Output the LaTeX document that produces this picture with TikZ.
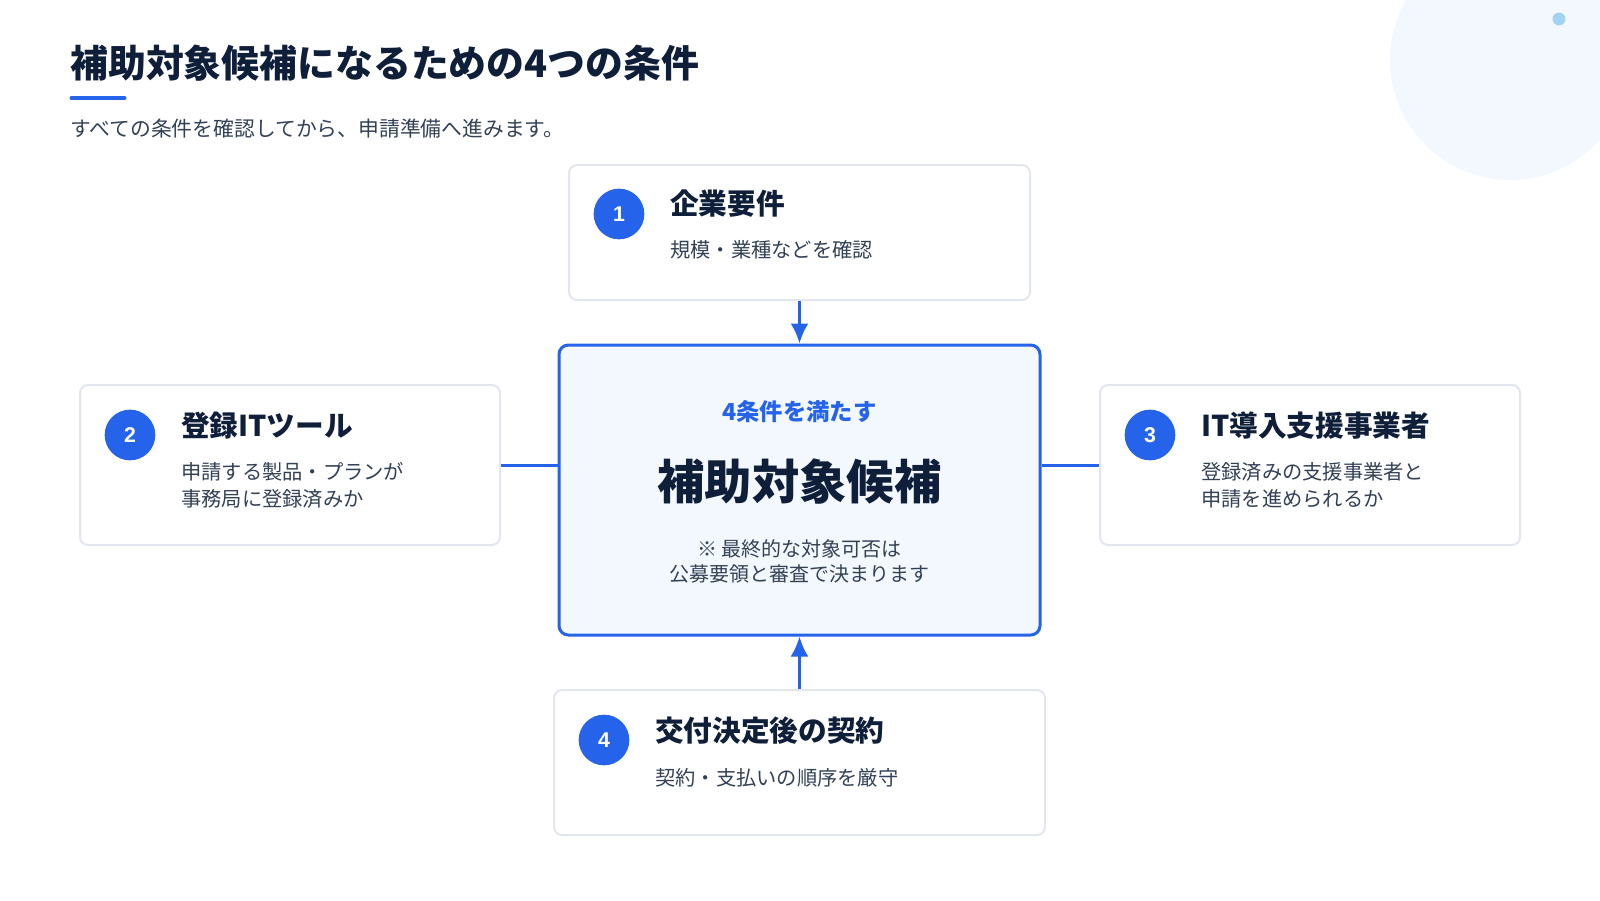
\documentclass[tikz,border=0pt]{standalone}
\usepackage{fontspec}
\setmainfont{Noto Sans CJK JP}
\newfontfamily\numfont{Liberation Sans}
\usetikzlibrary{arrows.meta}
\tikzset{>={Latex[length=15pt,width=13.5pt]}}
\definecolor{b1}{HTML}{2563EB}
\definecolor{navy}{HTML}{0F1F3A}
\definecolor{gr}{HTML}{334155}
\definecolor{edge}{HTML}{E2E6EE}
\definecolor{pale}{HTML}{F3F8FF}
\definecolor{dot}{HTML}{A3D3F3}
\tikzstyle{card}=[draw=edge,line width=1.5pt,fill=white,rounded corners=6pt,inner sep=0pt]
\tikzstyle{goal}=[draw=b1,line width=2.25pt,fill=pale,rounded corners=7pt,inner sep=0pt,
                  minimum width=360.75pt,minimum height=217.5pt]
\tikzstyle{badge}=[circle,fill=b1,text=white,minimum size=38pt,inner sep=0pt,
                   font=\numfont\bfseries\fontsize{16}{16}\selectfont]
\tikzstyle{head}=[anchor=west,inner sep=0pt,text=navy,font=\bfseries\fontsize{21.5}{26}\selectfont]
\tikzstyle{note}=[anchor=west,inner sep=0pt,text=gr,align=left,font=\fontsize{15.2}{20.25}\selectfont]
\tikzstyle{link}=[b1,line width=2.25pt]
\newcommand{\mybadge}[3]
{  % #1 = name , #2 = position , #3 = number
  \node[badge] (#1) at (#2) {#3};
}

\begin{document}
\begin{tikzpicture}[x=0.75pt,y=-0.75pt]
  \useasboundingbox (0,0) rectangle (1600,900);
  \begin{scope}
    \clip (0,0) rectangle (1600,900);
    \fill[pale] (1510,60) circle [radius=120];
  \end{scope}
  \fill[dot] (1559,19) circle [radius=6.5];

  \node[anchor=west,inner sep=0pt,text=navy,font=\bfseries\fontsize{28.4}{34}\selectfont]
       (title) at (70,63) {補助対象候補になるための4つの条件};
  \draw[b1,line width=3pt,line cap=round] (71.5,98) -- (124.5,98);
  \node[anchor=west,inner sep=0pt,text=gr,font=\fontsize{15.6}{18}\selectfont]
       (lead) at (70,129) {すべての条件を確認してから、申請準備へ進みます。};

  \node[card,minimum width=345.75pt,minimum height=101.25pt] (c1) at (799.5,232.5) {};
  \node[card,minimum width=315pt,minimum height=120pt] (c2) at (290,465) {};
  \node[card,minimum width=315pt,minimum height=120pt] (c3) at (1310,465) {};
  \node[card,minimum width=368.25pt,minimum height=108.75pt] (c4) at (799.5,762.5) {};
  \node[goal] (goal) at (799.5,490) {};

  \draw[link,->] (c1) -- (goal);
  \draw[link,->] (c4) -- (goal);
  \draw[link] (c2.east) -- (c2.east -| goal.west);
  \draw[link] (c3.west) -- (c3.west -| goal.east);

  \node[inner sep=0pt,text=b1,font=\bfseries\fontsize{17.5}{20}\selectfont]
       (tag) at (799.5,412) {4条件を満たす};
  \node[inner sep=0pt,text=navy,font=\bfseries\fontsize{35.5}{40}\selectfont]
       (name) at (799.5,482) {補助対象候補};
  \node[inner sep=0pt,text=gr,align=center,font=\fontsize{15}{18.75}\selectfont]
       (caveat) at (799.5,561.5) {※ 最終的な対象可否は\\公募要領と審査で決まります};

  \mybadge{n1}{619,214}{1}
  \node[head] (h1) at (670,204) {企業要件};
  \node[note] (t1) at (670,250) {規模・業種などを確認};

  \mybadge{n2}{130,435}{2}
  \node[head] (h2) at (181,426) {登録ITツール};
  \node[note] (t2) at (181,485.5) {申請する製品・プランが\\事務局に登録済みか};

  \mybadge{n3}{1150,435}{3}
  \node[head] (h3) at (1201,426) {IT導入支援事業者};
  \node[note] (t3) at (1201,485.5) {登録済みの支援事業者と\\申請を進められるか};

  \mybadge{n4}{604,740}{4}
  \node[head] (h4) at (655,731) {交付決定後の契約};
  \node[note] (t4) at (655,778) {契約・支払いの順序を厳守};
\end{tikzpicture}
\end{document}
